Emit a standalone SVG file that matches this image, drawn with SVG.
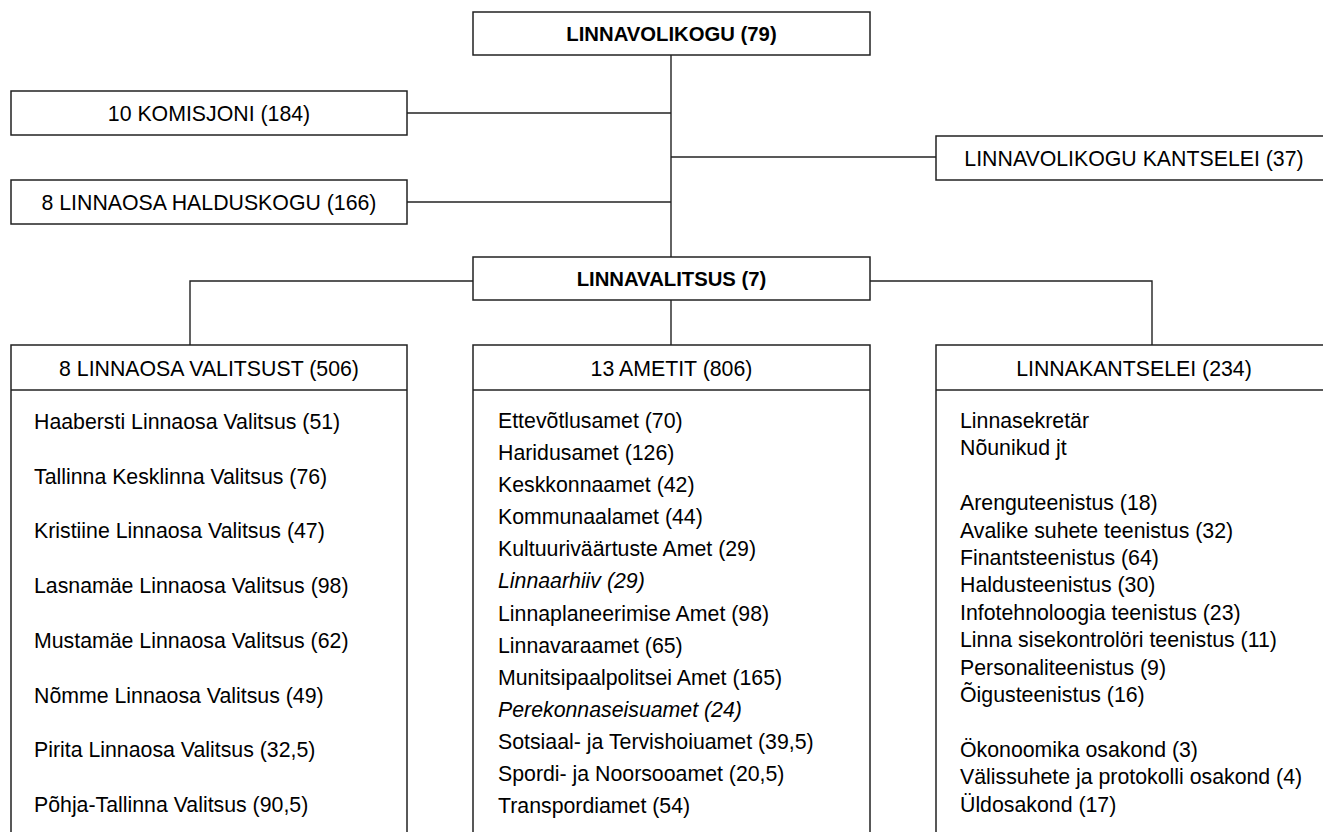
<svg xmlns="http://www.w3.org/2000/svg" width="1323" height="832" viewBox="0 0 1323 832">
<style>
text{font-family:"Liberation Sans",Arial,sans-serif;font-size:21.3px;fill:#000}
.c{text-anchor:middle}
.b{font-weight:bold;font-size:20.3px}
.i{font-style:italic}
.box{fill:#fff;stroke:#222;stroke-width:1.5}
.ln{fill:none;stroke:#222;stroke-width:1.4}
</style>
<rect width="1323" height="832" fill="#fff"/>
<g id="connectors" class="ln">
<path d="M671 55V257"/>
<path d="M407 113H671"/>
<path d="M407 202H671"/>
<path d="M671 157H936"/>
<path d="M473 281H190V345"/>
<path d="M671 300V345"/>
<path d="M870 281H1152V345"/>
</g>
<g id="linnavolikogu">
<rect class="box" x="473" y="12" width="397" height="43"/>
<text class="c b" x="671.5" y="41">LINNAVOLIKOGU (79)</text>
</g>
<g id="komisjoni">
<rect class="box" x="11" y="91" width="396" height="44"/>
<text class="c" x="209" y="121">10 KOMISJONI (184)</text>
</g>
<g id="halduskogu">
<rect class="box" x="11" y="180" width="396" height="44"/>
<text class="c" x="209" y="210">8 LINNAOSA HALDUSKOGU (166)</text>
</g>
<g id="volikogu-kantselei">
<rect class="box" x="936" y="136" width="396" height="44"/>
<text class="c" x="1134" y="166">LINNAVOLIKOGU KANTSELEI (37)</text>
</g>
<g id="linnavalitsus">
<rect class="box" x="473" y="257" width="397" height="43"/>
<text class="c b" x="671.5" y="286">LINNAVALITSUS (7)</text>
</g>
<g id="linnaosa-valitsused">
<rect class="box" x="11" y="345" width="396" height="510"/>
<path class="ln" d="M11 390H407"/>
<text class="c" x="209" y="376">8 LINNAOSA VALITSUST (506)</text>
<text x="34" y="429">Haabersti Linnaosa Valitsus (51)</text>
<text x="34" y="484">Tallinna Kesklinna Valitsus (76)</text>
<text x="34" y="538">Kristiine Linnaosa Valitsus (47)</text>
<text x="34" y="593">Lasnamäe Linnaosa Valitsus (98)</text>
<text x="34" y="648">Mustamäe Linnaosa Valitsus (62)</text>
<text x="34" y="703">Nõmme Linnaosa Valitsus (49)</text>
<text x="34" y="757">Pirita Linnaosa Valitsus (32,5)</text>
<text x="34" y="812">Põhja-Tallinna Valitsus (90,5)</text>
</g>
<g id="ametid">
<rect class="box" x="473" y="345" width="397" height="510"/>
<path class="ln" d="M473 390H870"/>
<text class="c" x="671.5" y="376">13 AMETIT (806)</text>
<text x="498" y="428">Ettevõtlusamet (70)</text>
<text x="498" y="460">Haridusamet (126)</text>
<text x="498" y="492">Keskkonnaamet (42)</text>
<text x="498" y="524">Kommunaalamet (44)</text>
<text x="498" y="556">Kultuuriväärtuste Amet (29)</text>
<text class="i" x="498" y="588">Linnaarhiiv (29)</text>
<text x="498" y="621">Linnaplaneerimise Amet (98)</text>
<text x="498" y="653">Linnavaraamet (65)</text>
<text x="498" y="685">Munitsipaalpolitsei Amet (165)</text>
<text class="i" x="498" y="717">Perekonnaseisuamet (24)</text>
<text x="498" y="749">Sotsiaal- ja Tervishoiuamet (39,5)</text>
<text x="498" y="781">Spordi- ja Noorsooamet (20,5)</text>
<text x="498" y="813">Transpordiamet (54)</text>
</g>
<g id="linnakantselei">
<rect class="box" x="936" y="345" width="396" height="510"/>
<path class="ln" d="M936 390H1332"/>
<text class="c" x="1134" y="376">LINNAKANTSELEI (234)</text>
<text x="960" y="428">Linnasekretär</text>
<text x="960" y="455">Nõunikud jt</text>
<text x="960" y="510">Arenguteenistus (18)</text>
<text x="960" y="538">Avalike suhete teenistus (32)</text>
<text x="960" y="565">Finantsteenistus (64)</text>
<text x="960" y="592">Haldusteenistus (30)</text>
<text x="960" y="620">Infotehnoloogia teenistus (23)</text>
<text x="960" y="647">Linna sisekontrolöri teenistus (11)</text>
<text x="960" y="675">Personaliteenistus (9)</text>
<text x="960" y="702">Õigusteenistus (16)</text>
<text x="960" y="757">Ökonoomika osakond (3)</text>
<text x="960" y="784">Välissuhete ja protokolli osakond (4)</text>
<text x="960" y="812">Üldosakond (17)</text>
</g>
</svg>
